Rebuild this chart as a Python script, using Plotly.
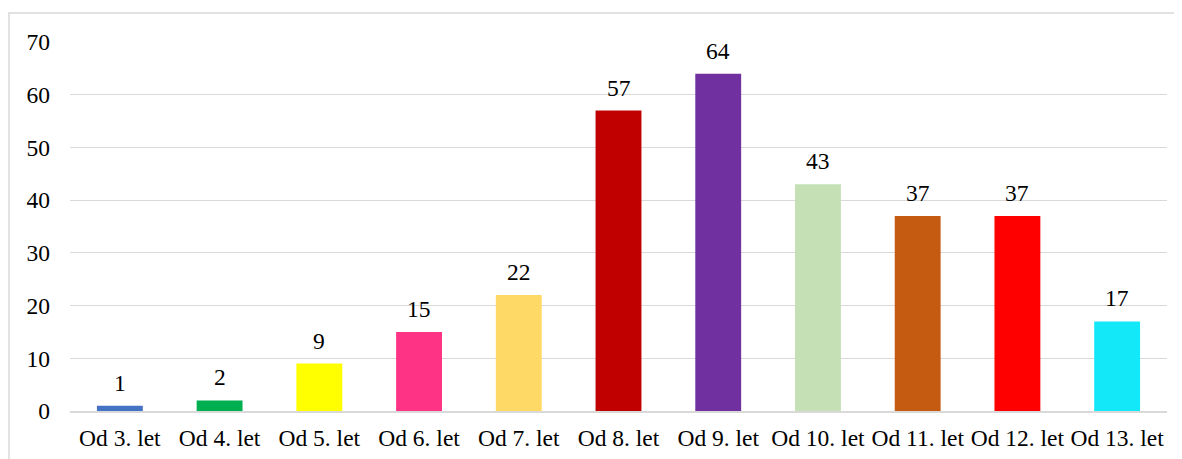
import plotly.graph_objects as go

categories = ["Od 3. let", "Od 4. let", "Od 5. let", "Od 6. let", "Od 7. let", "Od 8. let",
              "Od 9. let", "Od 10. let", "Od 11. let", "Od 12. let", "Od 13. let"]
values = [1, 2, 9, 15, 22, 57, 64, 43, 37, 37, 17]
bar_colors = ["#4472C4", "#00B050", "#FFFF00", "#FF3385", "#FFD966", "#C00000",
              "#7030A0", "#C5E0B4", "#C55A11", "#FF0000", "#12E8F8"]

# page body has an 8px margin, so the figure is sized to fill the rest of the window
W, H = 1182 - 8, 459 - 8
ML, MR, MT, MB = 62, 15, 34, 48
grid_color = "#D9D9D9"
font = dict(family="Times New Roman, Liberation Serif, serif", size=23.5, color="black")

fig = go.Figure(go.Bar(
    x=categories,
    y=values,
    marker=dict(color=bar_colors, line=dict(width=0)),
    hoverinfo="x+y",
))

# value labels above bars
for cat, val in zip(categories, values):
    fig.add_annotation(
        x=cat, y=val, text=str(val),
        showarrow=False, yanchor="bottom", yshift=8,
        font=font,
    )

# light grey frame around the chart (only left/top visible in the crop)
pw, ph = W - ML - MR, H - MT - MB
fig.add_shape(
    type="rect", xref="paper", yref="paper",
    x0=(1 - ML) / pw, x1=(W + 20 - ML) / pw,
    y0=-(MB + 20) / ph, y1=1 + (MT - 5) / ph,
    line=dict(color=grid_color, width=1.5),
    layer="below",
)

fig.update_layout(
    width=W, height=H,
    margin=dict(l=ML, r=MR, t=MT, b=MB, autoexpand=False),
    plot_bgcolor="white",
    paper_bgcolor="white",
    font=font,
    showlegend=False,
    bargap=0.54,
)
fig.update_xaxes(
    showgrid=False,
    showline=True, linecolor=grid_color, linewidth=1.5,
    ticks="", ticklabelstandoff=5,
    tickfont=font, automargin=False,
)
fig.update_yaxes(
    range=[0, 70], dtick=10,
    showgrid=True, gridcolor=grid_color, gridwidth=1.3,
    zeroline=False, showline=False,
    ticks="", ticklabelstandoff=19,
    tickfont=font, automargin=False,
)

fig.write_html("out.html")
